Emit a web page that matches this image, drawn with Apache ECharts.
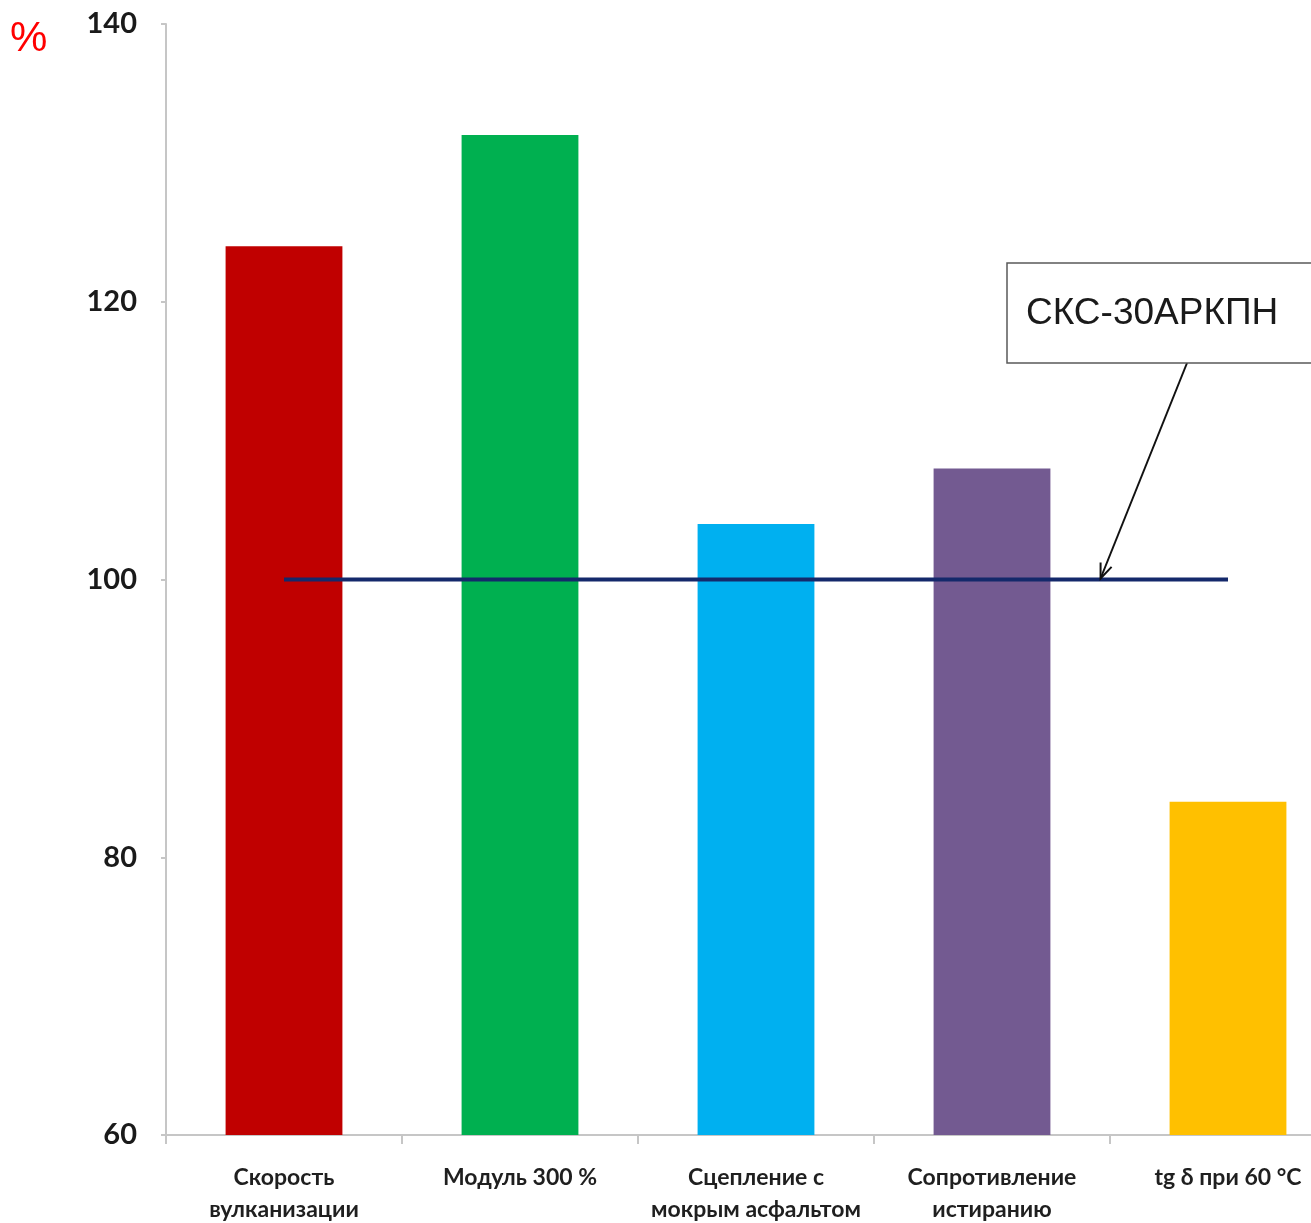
<!DOCTYPE html>
<html>
<head>
<meta charset="utf-8">
<script src="https://cdn.jsdelivr.net/npm/echarts@6/dist/echarts.min.js"></script>
<style>
  html, body { margin: 0; padding: 0; background: #fff; }
  #chart { width: 1311px; height: 1223px; }
</style>
</head>
<body>
<div id="chart"></div>
<script>
// Properties of rubber compounds relative to the reference rubber (= 100 %)
const categories = [
  'Скорость\nвулканизации',
  'Модуль 300 %',
  'Сцепление с\nмокрым асфальтом',
  'Сопротивление\nистиранию',
  'tg δ при 60 °C'
];
const values = [124, 132, 104, 108, 84];
const barColors = ['#c00000', '#00b050', '#00b0f0', '#735a91', '#ffc000'];
const referenceLevel = [100, 100, 100, 100, 100];
const referenceName = 'СКС-30АРКПН';
const yTicks = { min: 60, max: 140, interval: 20 };

const chart = echarts.init(document.getElementById('chart'));

const option = {
  animation: false,
  backgroundColor: '#ffffff',
  grid: {
    left: 166, right: -35, top: 24, bottom: 88,
    containLabel: false,
    outerBoundsMode: 'none'
  },
  xAxis: {
    type: 'category',
    data: categories,
    axisLine: { lineStyle: { color: '#c6c6c6', width: 2 } },
    axisTick: { show: true, length: 9, lineStyle: { color: '#c6c6c6', width: 2 } },
    axisLabel: {
      interval: 0,
      margin: 27,
      color: '#1f1f1f',
      fontFamily: 'Lato',
      fontWeight: 'bold',
      fontSize: 23,
      lineHeight: 32
    }
  },
  yAxis: {
    type: 'value',
    min: yTicks.min,
    max: yTicks.max,
    interval: yTicks.interval,
    splitLine: { show: false },
    axisLine: { show: true, lineStyle: { color: '#c6c6c6', width: 2 } },
    axisTick: { show: true, length: 5, lineStyle: { color: '#c6c6c6', width: 2 } },
    axisLabel: {
      margin: 29,
      color: '#1a1a1a',
      fontFamily: 'Lato',
      fontWeight: 'bold',
      fontSize: 29
    }
  },
  series: [
    {
      type: 'bar',
      data: values.map((v, i) => ({ value: v, itemStyle: { color: barColors[i] } })),
      barWidth: '49.5%',
      z: 2
    },
    {
      type: 'line',
      name: referenceName,
      data: referenceLevel,
      symbol: 'none',
      lineStyle: { color: '#14296b', width: 4 },
      z: 3
    }
  ]
};

chart.setOption(option);

// Callout box with a pointer to the reference line
const p3 = chart.convertToPixel({ gridIndex: 0 }, [3, referenceLevel[3]]);
const p4 = chart.convertToPixel({ gridIndex: 0 }, [4, referenceLevel[4]]);
const tip = [p3[0] + 0.46 * (p4[0] - p3[0]), p3[1] - 1];
const tail = [1187, 363];
const dx = tip[0] - tail[0], dy = tip[1] - tail[1];
const len = Math.hypot(dx, dy);
const ux = dx / len, uy = dy / len;
const headLen = 16, ang = 0.38;
const rot = (x, y, a) => [x * Math.cos(a) - y * Math.sin(a), x * Math.sin(a) + y * Math.cos(a)];
const h1 = rot(-ux, -uy, ang), h2 = rot(-ux, -uy, -ang);

chart.setOption({
  graphic: [
    {
      type: 'text',
      x: 10,
      y: 18,
      style: { text: '%', fill: '#ff0000', font: '42px "Liberation Sans", Arial, sans-serif' }
    },
    {
      type: 'line',
      shape: { x1: tail[0], y1: tail[1], x2: tip[0], y2: tip[1] },
      style: { stroke: '#111111', lineWidth: 2 },
      z: 10
    },
    {
      type: 'polyline',
      shape: {
        points: [
          [tip[0] + h1[0] * headLen, tip[1] + h1[1] * headLen],
          [tip[0], tip[1]],
          [tip[0] + h2[0] * headLen, tip[1] + h2[1] * headLen]
        ]
      },
      style: { stroke: '#111111', lineWidth: 2, fill: null },
      z: 10
    },
    {
      type: 'rect',
      shape: { x: 1007, y: 263, width: 330, height: 100 },
      style: { fill: '#ffffff', stroke: '#595959', lineWidth: 1.5 },
      z: 10
    },
    {
      type: 'text',
      x: 1026,
      y: 314,
      style: {
        text: referenceName,
        fill: '#1a1a1a',
        font: '37px "Liberation Sans", Arial, sans-serif',
        verticalAlign: 'middle'
      },
      z: 11
    }
  ]
});
</script>
</body>
</html>
